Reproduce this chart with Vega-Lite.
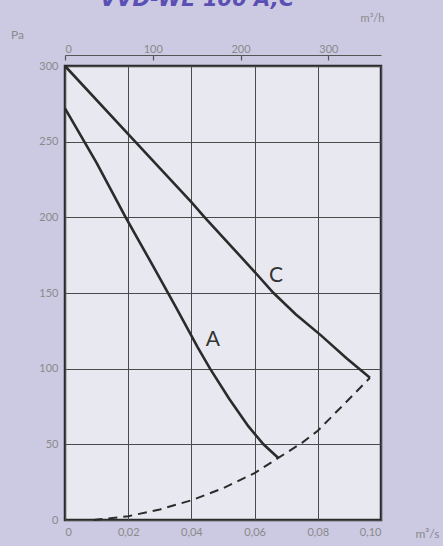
{
  "$schema": "https://vega.github.io/schema/vega-lite/v6.json",
  "width": 316,
  "height": 454,
  "autosize": {"type": "none"},
  "padding": {"left": 65, "top": 66, "right": 62, "bottom": 26},
  "background": "#ccc9e3",
  "title": {
    "text": "VVD-WE 100 A,C",
    "anchor": "start",
    "frame": "group",
    "fontSize": 21,
    "fontStyle": "italic",
    "fontWeight": "bold",
    "font": "DejaVu Sans",
    "color": "#5a4fb2",
    "baseline": "bottom",
    "offset": 0,
    "dx": 35,
    "dy": 19
  },
  "config": {
    "view": {"fill": "#e8e8f0", "stroke": "#2a2a2a", "strokeWidth": 2.5},
    "axis": {"labelFont": "Lato", "titleFont": "Lato", "labelColor": "#8a8a8a", "titleColor": "#8a8a8a", "labelFontSize": 11, "titleFontSize": 11, "titleFontWeight": "normal"}
  },
  "datasets": {
    "curves": [
      {"curve": "A", "q": 0, "p": 272},
      {"curve": "A", "q": 0.01, "p": 236},
      {"curve": "A", "q": 0.0192, "p": 200},
      {"curve": "A", "q": 0.027, "p": 171},
      {"curve": "A", "q": 0.035, "p": 141},
      {"curve": "A", "q": 0.042, "p": 114},
      {"curve": "A", "q": 0.0459, "p": 100},
      {"curve": "A", "q": 0.052, "p": 80},
      {"curve": "A", "q": 0.058, "p": 62},
      {"curve": "A", "q": 0.0628, "p": 50},
      {"curve": "A", "q": 0.0675, "p": 41},
      {"curve": "C", "q": 0, "p": 300},
      {"curve": "C", "q": 0.02, "p": 255},
      {"curve": "C", "q": 0.04, "p": 210},
      {"curve": "C", "q": 0.0442, "p": 200},
      {"curve": "C", "q": 0.06, "p": 164},
      {"curve": "C", "q": 0.066, "p": 150},
      {"curve": "C", "q": 0.073, "p": 136},
      {"curve": "C", "q": 0.081, "p": 122},
      {"curve": "C", "q": 0.089, "p": 107},
      {"curve": "C", "q": 0.0965, "p": 94}
    ],
    "system": [
      {"q": 0.009, "p": 0},
      {"q": 0.02, "p": 2.5},
      {"q": 0.03, "p": 7},
      {"q": 0.04, "p": 13},
      {"q": 0.05, "p": 21},
      {"q": 0.06, "p": 31},
      {"q": 0.0675, "p": 41},
      {"q": 0.075, "p": 51},
      {"q": 0.08, "p": 59},
      {"q": 0.089, "p": 78},
      {"q": 0.0965, "p": 94}
    ],
    "labels": [
      {"q": 0.0468, "p": 119, "text": "A"},
      {"q": 0.0668, "p": 161, "text": "C"}
    ]
  },
  "layer": [
    {
      "data": {"name": "curves"},
      "mark": {"type": "line", "color": "#2b2b2b", "strokeWidth": 2.6},
      "encoding": {
        "x": {
          "field": "q", "type": "quantitative",
          "scale": {"domain": [0, 0.1], "nice": false, "zero": true},
          "axis": {
            "orient": "bottom",
            "values": [0, 0.02, 0.04, 0.06, 0.08, 0.1],
            "labelExpr": "datum.value == 0 ? '0' : replace(format(datum.value, '.2f'), '.', ',')",
            "grid": true, "gridColor": "#4a4a4a", "gridWidth": 1,
            "domain": false, "ticks": false, "labelPadding": 6,
            "title": "m³/s", "titleX": 362, "titleY": 13, "titleAlign": "center", "titleBaseline": "middle", "titleAngle": 0,
            "titleFontSize": 12
          }
        },
        "y": {
          "field": "p", "type": "quantitative",
          "scale": {"domain": [0, 300], "nice": false},
          "axis": {
            "values": [0, 50, 100, 150, 200, 250, 300],
            "grid": true, "gridColor": "#4a4a4a", "gridWidth": 1,
            "domain": false, "ticks": false, "labelPadding": 7,
            "title": "Pa", "titleX": -48, "titleY": -32, "titleAngle": 0, "titleAlign": "center", "titleBaseline": "middle",
            "titleFontSize": 12
          }
        },
        "detail": {"field": "curve"}
      }
    },
    {
      "data": {"name": "system"},
      "mark": {"type": "line", "color": "#2b2b2b", "strokeWidth": 2, "strokeDash": [9, 6]},
      "encoding": {
        "x": {
          "field": "q", "type": "quantitative",
          "axis": {
            "orient": "top",
            "offset": 11,
            "values": [0, 0.0277778, 0.0555556, 0.0833333],
            "labelExpr": "format(datum.value * 3600, '.0f')",
            "grid": false,
            "domain": true, "domainColor": "#555555", "domainWidth": 1.2,
            "ticks": true, "tickColor": "#555555", "tickSize": -5, "tickWidth": 1.2,
            "labelPadding": 6,
            "title": "m³/h", "titleX": 307, "titleY": -37, "titleAngle": 0, "titleAlign": "center", "titleBaseline": "middle"
          }
        },
        "y": {"field": "p", "type": "quantitative"}
      }
    },
    {
      "data": {"name": "labels"},
      "mark": {"type": "text", "font": "Lato", "fontSize": 21, "color": "#333333", "baseline": "middle", "align": "center"},
      "encoding": {
        "x": {"field": "q", "type": "quantitative", "axis": null},
        "y": {"field": "p", "type": "quantitative"},
        "text": {"field": "text"}
      }
    }
  ],
  "resolve": {"axis": {"x": "independent"}}
}
